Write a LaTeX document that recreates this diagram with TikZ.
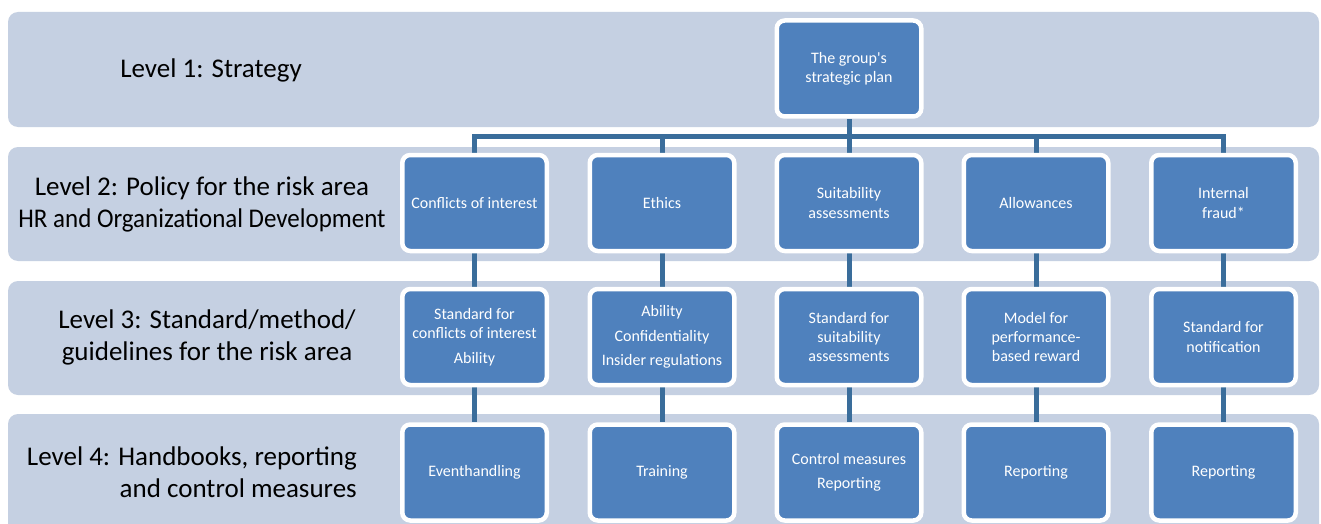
\documentclass[tikz,border=0pt]{standalone}
\usepackage{fontspec}
\setmainfont{Carlito}
\usetikzlibrary{backgrounds}
\pgfdeclarelayer{bands}
\pgfdeclarelayer{links}
\pgfsetlayers{bands,links,main}
\definecolor{bandfill}{HTML}{C5D0E2}
\definecolor{boxfill}{HTML}{4F81BD}
\definecolor{linkcol}{HTML}{3A6D9B}
\tikzset{
  band/.style={fill=bandfill, rounded corners=10pt},
  unit/.style={fill=boxfill, draw=white, line width=4.5pt, rounded corners=8pt,
    minimum width=144.5pt, minimum height=96pt, text=white, align=center,
    font=\fontsize{16}{19.3}\selectfont, inner sep=2pt},
  lvl/.style={text=black, font=\fontsize{27}{32}\selectfont, inner sep=0pt},
  link/.style={draw=linkcol, line width=5pt, line join=miter}
}
\begin{document}
\begin{tikzpicture}[x=1pt,y=-1pt]
\clip (0,0) rectangle (1321,524);
\begin{pgfonlayer}{bands}
\fill[white] (0,0) rectangle (1321,524);
\fill[band] (8,12) rectangle (1319,127);
\fill[band] (8,147) rectangle (1319,261);
\fill[band] (8,281) rectangle (1319,395);
\fill[band] (8,414) rectangle (1319,545);
\end{pgfonlayer}
% level labels
\node[lvl] (l1) at (211,70) {Level 1: Strategy};
\node[lvl, align=center] (l2) at (202,204.5) {Level 2: Policy for the risk area\\\scalebox{0.925}[1]{HR and Organizational Development}};
\node[lvl, align=center] (l3) at (207,337.5) {Level 3: Standard/method/\\guidelines for the risk area};
\node[lvl, align=right, anchor=east] (l4) at (357,472.5) {Level 4: Handbooks, reporting\\and control measures};
% top
\node[unit] (top) at (849,68.5) {The group\textquotesingle s\\strategic plan};
% level 2
\node[unit] (a2) at (474.5,203) {Conflicts of interest};
\node[unit] (b2) at (662,203) {Ethics};
\node[unit] (c2) at (849,203) {Suitability\\assessments};
\node[unit] (d2) at (1036,203) {Allowances};
\node[unit] (e2) at (1223.5,203) {Internal\\fraud*};
% level 3
\node[unit] (a3) at (474.5,337) {Standard for\\conflicts of interest\\[5pt]Ability};
\node[unit] (b3) at (662,337) {Ability\\[5pt]Confidentiality\\[5pt]Insider regulations};
\node[unit] (c3) at (849,337) {Standard for\\suitability\\assessments};
\node[unit] (d3) at (1036,337) {Model for\\performance-\\based reward};
\node[unit] (e3) at (1223.5,337) {Standard for\\notification};
% level 4
\node[unit] (a4) at (474.5,472.5) {Eventhandling};
\node[unit] (b4) at (662,472.5) {Training};
\node[unit] (c4) at (849,472.5) {Control measures\\[5pt]Reporting};
\node[unit] (d4) at (1036,472.5) {Reporting};
\node[unit] (e4) at (1223.5,472.5) {Reporting};
\coordinate (bus) at (849,136.5);
\begin{pgfonlayer}{links}
\draw[link] (top) -- (bus);
\draw[link] (a2) |- (bus) -| (e2);
\draw[link] (b2) -- (b2 |- bus);
\draw[link] (c2) -- (bus);
\draw[link] (d2) -- (d2 |- bus);
\foreach \c in {a,b,c,d,e}{
  \draw[link] (\c2) -- (\c3);
  \draw[link] (\c3) -- (\c4);
}
\end{pgfonlayer}
\end{tikzpicture}
\end{document}
